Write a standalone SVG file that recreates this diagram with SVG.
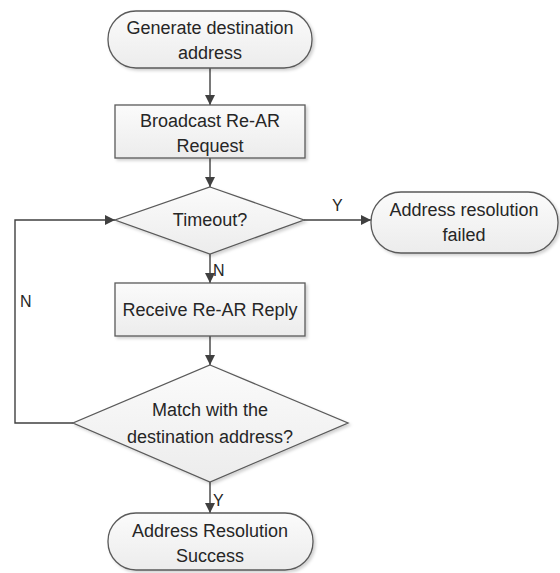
<svg xmlns="http://www.w3.org/2000/svg" width="560" height="573" viewBox="0 0 560 573">
<defs>
<linearGradient id="g" x1="0" y1="0" x2="0" y2="1">
<stop offset="0" stop-color="#fbfbfb"/>
<stop offset="1" stop-color="#ececec"/>
</linearGradient>
<filter id="sh" x="-10%" y="-10%" width="130%" height="140%">
<feDropShadow dx="2" dy="2" stdDeviation="1.5" flood-color="#000" flood-opacity="0.18"/>
</filter>
<marker id="ah" viewBox="0 0 10 10" refX="10" refY="5" markerWidth="10" markerHeight="10" markerUnits="userSpaceOnUse" orient="auto">
<path d="M0,0 L10,5 L0,10 z" fill="#404040"/>
</marker>
</defs>
<style>
.s{fill:url(#g);stroke:#5a5a5a;stroke-width:1.3;filter:url(#sh)}
.t{font-family:"Liberation Sans",Arial,sans-serif;font-size:18px;fill:#262626;text-anchor:middle}
.c{fill:none;stroke:#404040;stroke-width:1.4}
.l{font-family:"Liberation Sans",Arial,sans-serif;font-size:16px;fill:#262626}
</style>
<rect width="560" height="573" fill="#fff"/>
<g id="connectors">
<line class="c" x1="210" y1="68" x2="210" y2="105" marker-end="url(#ah)"/>
<line class="c" x1="210" y1="158" x2="210" y2="187" marker-end="url(#ah)"/>
<line class="c" x1="304" y1="220" x2="371" y2="220" marker-end="url(#ah)"/>
<line class="c" x1="210" y1="254" x2="210" y2="283" marker-end="url(#ah)"/>
<line class="c" x1="210" y1="336" x2="210" y2="365" marker-end="url(#ah)"/>
<line class="c" x1="210" y1="482" x2="210" y2="513" marker-end="url(#ah)"/>
<polyline class="c" points="73,423 15,423 15,220 115,220" marker-end="url(#ah)"/>
<text class="l" x="332" y="211">Y</text>
<text class="l" x="213" y="276">N</text>
<text class="l" x="20" y="307">N</text>
<text class="l" x="213" y="506">Y</text>
</g>
<g id="start">
<rect class="s" x="108" y="11" width="204" height="57" rx="28" ry="28"/>
<text class="t" x="210" y="34">Generate destination</text>
<text class="t" x="210" y="59">address</text>
</g>
<g id="broadcast">
<rect class="s" x="115" y="105" width="190" height="53"/>
<text class="t" x="210" y="127">Broadcast Re-AR</text>
<text class="t" x="210" y="152">Request</text>
</g>
<g id="timeout">
<polygon class="s" points="210,187 304,220 210,254 115,220"/>
<text class="t" x="210" y="226">Timeout?</text>
</g>
<g id="failed">
<rect class="s" x="371" y="192" width="187" height="61" rx="30" ry="30"/>
<text class="t" x="464" y="216">Address resolution</text>
<text class="t" x="464" y="241">failed</text>
</g>
<g id="receive">
<rect class="s" x="115" y="283" width="190" height="53"/>
<text class="t" x="210" y="316">Receive Re-AR Reply</text>
</g>
<g id="match">
<polygon class="s" points="210,365 348,423 210,482 73,423"/>
<text class="t" x="210" y="416">Match with the</text>
<text class="t" x="210" y="443">destination address?</text>
</g>
<g id="success">
<rect class="s" x="108" y="513" width="205" height="57" rx="28" ry="28"/>
<text class="t" x="210" y="537">Address Resolution</text>
<text class="t" x="210" y="562">Success</text>
</g>
</svg>
